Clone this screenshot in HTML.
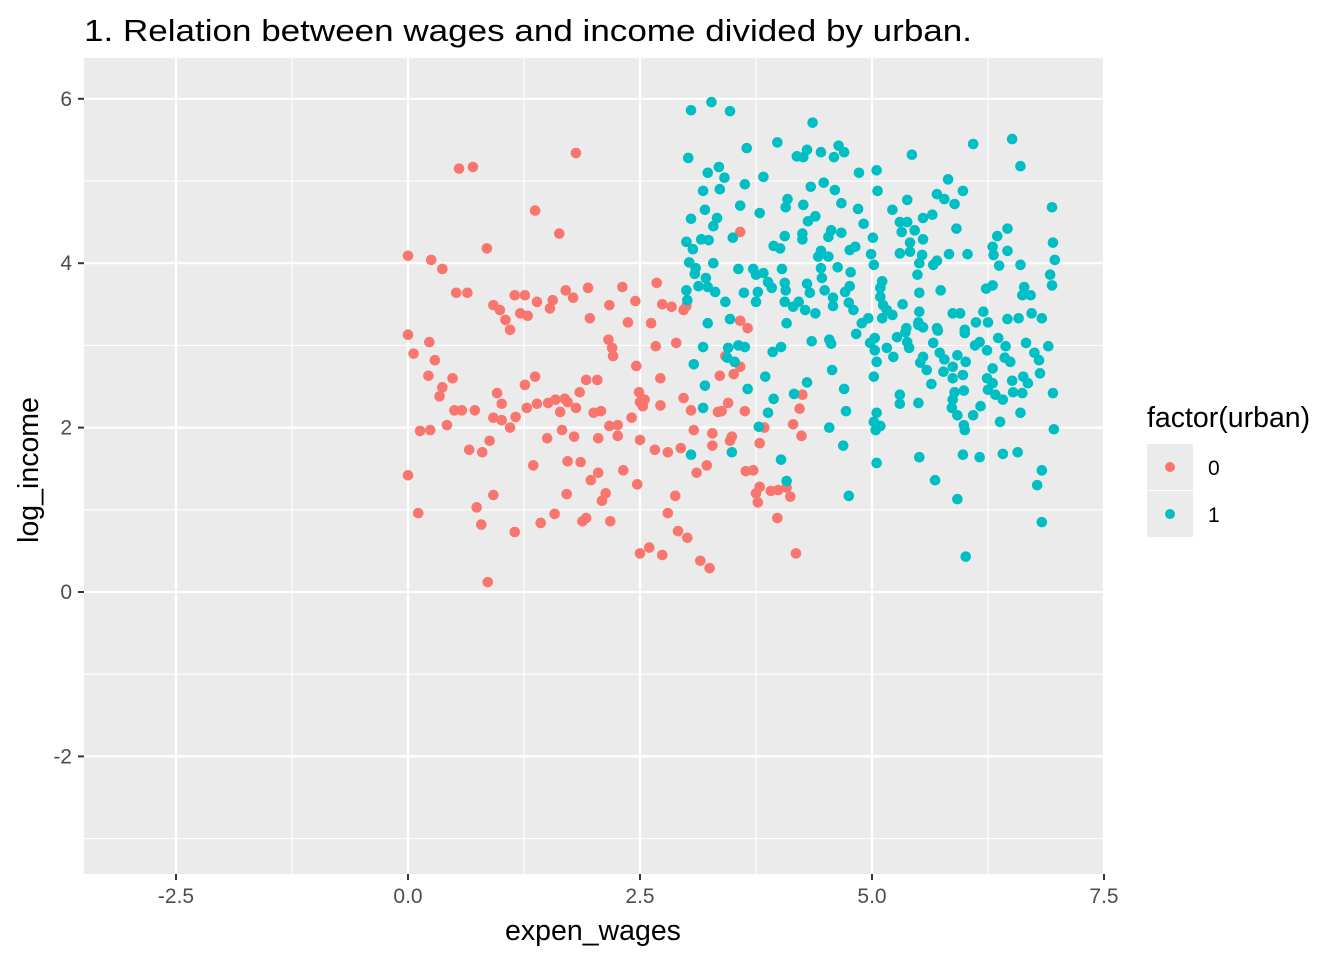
<!DOCTYPE html>
<html><head><meta charset="utf-8"><style>
html,body{margin:0;padding:0;background:#fff;}
svg{display:block;font-family:"Liberation Sans",Arial,sans-serif;}
</style></head><body>
<svg id="chart" width="1344" height="960" xmlns="http://www.w3.org/2000/svg">
<text x="84" y="41" font-size="31" fill="#000" textLength="888" lengthAdjust="spacingAndGlyphs">1. Relation between wages and income divided by urban.</text>
<rect x="84" y="58" width="1020" height="816" fill="#ebebeb"/>
<g id="grid"></g>
<g id="pts"></g>
<g id="axes"></g>
<text x="593" y="940" font-size="28.5" text-anchor="middle" fill="#000">expen_wages</text>
<text x="0" y="0" font-size="28.5" text-anchor="middle" fill="#000" transform="translate(38,470) rotate(-90)">log_income</text>
<g>
<text x="1147" y="427" font-size="28.5" fill="#000">factor(urban)</text>
<rect x="1147" y="444" width="46" height="46" fill="#ebebeb"/>
<rect x="1147" y="491" width="46" height="46" fill="#ebebeb"/>
<circle cx="1170" cy="467" r="5" fill="#F8766D"/>
<circle cx="1170" cy="514" r="5" fill="#00BFC4"/>
<text x="1208" y="475" font-size="21" fill="#000">0</text>
<text x="1208" y="522" font-size="21" fill="#000">1</text>
</g>
</svg>
<script>
const xTicks=[-2.5,0,2.5,5,7.5];
const xTickLabels=["-2.5","0.0","2.5","5.0","7.5"];
const xMinor=[-1.25,1.25,3.75,6.25];
const yTicks=[-2,0,2,4,6];
const yTickLabels=["-2","0","2","4","6"];
const yMinor=[-3,-1,1,3,5];
const redX=[0.55,0.70,1.81,1.37,1.63,0.00,0.85,0.25,0.37,0.52,0.64,0.00,0.06,0.23,0.29,0.48,0.37,0.22,0.92,0.99,1.05,1.10,1.15,1.26,1.21,1.29,1.39,1.53,1.56,1.70,1.78,1.94,1.96,2.17,2.31,2.45,2.68,2.74,2.37,2.62,2.84,2.97,0.92,1.01,1.10,1.26,1.37,1.69,1.81,1.85,1.92,2.04,2.21,2.16,1.66,1.79,2.05,2.00,2.26,2.46,2.49,2.50,2.72,2.72,2.67,2.17,0.24,0.34,0.50,0.58,0.72,0.96,1.01,1.16,1.28,1.39,1.51,1.59,1.72,1.64,2.08,2.26,2.41,2.50,2.66,2.80,2.94,3.08,2.55,0.00,0.11,0.13,0.42,0.66,0.80,0.88,0.79,0.86,0.92,0.74,1.15,1.35,1.43,1.50,1.58,1.71,1.72,1.86,1.88,1.92,1.97,2.05,2.09,2.13,2.18,2.32,2.47,2.50,2.60,2.74,2.80,2.88,2.91,3.01,3.11,3.15,3.25,3.28,3.34,3.38,3.45,3.47,3.49,3.36,3.42,3.51,3.58,3.63,3.64,3.72,3.75,3.77,3.79,3.79,3.84,3.98,3.91,3.99,4.08,4.12,4.18,4.15,4.24,4.22,4.25,3.66,3.58,3.58,3.00,3.05,3.22,3.28,2.89,2.97,2.53,2.20];
const redY=[5.15,5.17,5.34,4.64,4.36,4.09,4.18,4.04,3.93,3.64,3.64,3.13,2.90,3.04,2.82,2.60,2.49,2.63,3.49,3.43,3.31,3.19,3.61,3.61,3.39,3.36,3.53,3.45,3.55,3.67,3.58,3.70,3.33,3.49,3.71,3.54,3.76,3.50,3.28,3.27,3.47,3.43,2.12,2.09,2.00,2.52,2.62,2.35,2.24,2.43,2.58,2.58,2.87,3.07,1.97,1.89,1.87,2.18,1.90,2.75,2.43,2.31,2.60,2.27,2.99,2.02,1.97,2.38,2.21,2.21,2.21,2.42,2.29,2.13,2.24,2.29,2.30,2.34,2.31,2.19,2.20,2.03,2.12,1.85,1.73,1.70,1.75,1.97,2.34,1.42,0.96,1.96,2.03,1.73,1.70,1.84,0.82,0.12,1.18,1.03,0.73,1.54,0.84,1.87,0.95,1.19,1.59,1.58,0.86,0.90,1.36,1.45,1.11,1.20,0.86,1.48,1.31,0.47,0.54,0.45,0.96,1.17,0.74,0.66,1.45,0.38,0.29,1.93,2.19,2.20,2.30,1.84,1.89,2.63,2.87,2.65,2.74,2.20,1.47,1.48,1.20,1.09,1.81,1.28,2.00,0.90,1.23,1.24,1.27,1.16,0.47,2.04,1.90,2.23,2.40,3.21,3.30,4.38,3.48,2.21,1.54,1.78,3.03,2.36,2.26,2.97];
const tealX=[3.05,3.27,3.47,4.36,3.65,3.98,3.02,4.19,4.26,4.30,4.45,4.59,4.64,4.70,5.43,6.09,6.51,6.60,4.86,5.05,3.23,3.35,3.41,3.63,3.83,3.18,3.36,4.34,4.48,4.60,5.06,5.82,5.98,5.70,5.78,5.89,5.38,4.67,4.85,5.22,4.09,4.07,4.26,3.58,3.79,3.20,3.05,3.33,3.29,4.31,4.39,4.91,5.30,5.38,5.32,5.46,5.55,5.65,5.91,6.94,6.46,6.35,3.50,3.00,3.16,3.24,3.07,4.06,4.25,4.25,4.56,4.67,4.53,5.01,5.55,5.41,5.41,5.30,3.94,4.01,4.45,4.53,4.42,4.76,4.82,4.99,5.02,5.54,5.51,5.66,5.70,5.83,6.03,6.30,6.31,6.37,6.46,6.60,6.95,6.97,6.92,6.94,3.03,3.10,3.29,3.09,3.21,3.56,3.72,3.83,3.75,3.88,3.92,4.03,4.06,4.07,4.30,4.33,4.45,4.46,4.63,4.77,4.76,4.71,4.49,4.58,4.58,4.75,4.80,5.11,5.09,5.09,5.12,5.16,5.22,5.11,5.33,5.49,5.51,5.51,5.50,5.74,5.87,5.95,6.20,6.12,6.25,6.23,6.30,6.64,6.62,6.71,6.46,6.58,6.72,6.83,3.00,3.01,3.13,3.23,3.31,3.42,3.62,3.77,3.75,4.06,4.15,4.21,4.28,4.39,3.23,3.47,4.08,4.89,4.96,5.37,5.70,6.00,
3.18,3.08,3.45,3.56,3.63,3.44,3.52,3.20,3.18,3.66,3.85,3.94,3.88,3.78,3.93,4.02,4.35,4.54,4.56,4.57,4.30,4.16,4.70,4.72,4.54,4.69,3.05,3.49,4.02,4.08,4.75,4.83,4.98,5.03,5.03,5.05,5.02,5.16,5.23,5.27,5.36,5.38,5.40,5.50,5.55,5.66,5.71,5.55,5.52,5.59,5.73,5.78,5.77,5.64,5.87,5.87,5.92,6.00,6.01,5.98,5.89,5.99,5.87,5.86,5.92,6.09,6.17,6.11,6.16,6.24,6.36,6.44,6.66,6.90,6.43,6.49,6.30,6.24,6.30,6.25,6.33,6.41,6.51,6.52,6.62,6.63,6.68,6.75,6.80,6.81,6.95,6.60,6.38,6.96,5.05,5.02,5.09,5.04,5.30,5.30,5.50,5.99,6.00,5.05,5.51,5.98,6.16,6.41,6.57,6.83,6.78,5.68,5.92,6.83,6.01];
const tealY=[5.86,5.96,5.85,5.71,5.40,5.47,5.28,5.30,5.29,5.38,5.35,5.29,5.43,5.35,5.32,5.45,5.51,5.18,5.10,5.13,5.10,5.17,5.04,4.96,5.05,4.88,4.90,4.93,4.98,4.89,4.88,5.02,4.88,4.84,4.78,4.72,4.77,4.73,4.66,4.65,4.78,4.68,4.71,4.70,4.61,4.65,4.54,4.55,4.45,4.51,4.57,4.48,4.50,4.50,4.38,4.40,4.55,4.59,4.42,4.68,4.42,4.33,4.31,4.26,4.29,4.28,4.17,4.33,4.36,4.29,4.40,4.37,4.32,4.31,4.29,4.25,4.14,4.12,4.21,4.18,4.15,4.08,4.08,4.16,4.20,4.11,3.98,4.10,4.00,3.98,4.03,4.11,4.11,4.20,4.10,3.97,4.15,3.98,4.25,4.04,3.86,3.73,4.01,3.94,4.00,3.87,3.82,3.93,3.93,3.88,3.86,3.77,3.70,3.93,3.76,3.67,3.75,3.64,3.94,3.82,3.95,3.89,3.72,3.65,3.67,3.58,3.48,3.52,3.43,3.78,3.70,3.59,3.49,3.43,3.37,3.33,3.50,3.86,3.64,3.41,3.28,3.67,3.39,3.39,3.41,3.28,3.28,3.69,3.73,3.71,3.61,3.61,3.32,3.33,3.39,3.33,3.67,3.55,3.72,3.71,3.65,3.53,3.64,3.65,3.53,3.53,3.47,3.53,3.43,3.39,3.27,3.32,3.27,3.27,3.33,3.21,3.21,3.19,
2.98,2.77,2.97,3.00,2.98,2.85,2.80,2.51,2.24,2.47,2.62,2.35,2.18,2.01,2.92,2.98,3.05,3.07,3.02,2.70,2.55,2.41,2.47,2.20,2.00,1.78,1.67,1.70,1.61,1.35,1.17,3.14,3.03,3.09,2.94,2.80,2.62,2.97,2.86,3.10,3.16,3.04,2.97,3.25,3.22,3.03,3.18,2.86,2.79,2.70,2.91,2.83,2.68,2.53,2.74,2.60,2.88,3.15,2.80,2.64,2.43,2.45,2.34,2.24,2.15,2.15,2.26,3.00,3.04,2.94,3.09,2.99,3.03,2.99,2.85,2.80,2.72,2.60,2.54,2.46,2.40,2.34,2.57,2.43,2.42,2.62,2.54,2.91,2.82,2.66,2.42,2.18,2.07,1.98,2.18,2.07,2.02,1.97,2.40,2.29,2.30,2.03,1.97,1.57,1.64,1.67,1.64,1.68,1.70,1.48,1.30,1.36,1.13,0.85,0.43];

const X0=408, XS=92.8, Y0=592, YS=82.2;
function sx(v){return X0+v*XS;}
function sy(v){return Y0-v*YS;}
const NS="http://www.w3.org/2000/svg";
function mk(tag,attrs,parent){const e=document.createElementNS(NS,tag);for(const k in attrs)e.setAttribute(k,attrs[k]);parent.appendChild(e);return e;}
const grid=document.getElementById('grid'), axes=document.getElementById('axes'), pts=document.getElementById('pts');
xMinor.forEach(v=>{const l=mk('line',{x1:sx(v),x2:sx(v),y1:58,y2:874,stroke:'#fff','stroke-width':1.1},grid);

});
yMinor.forEach(v=>{const l=mk('line',{x1:84,x2:1104,y1:sy(v),y2:sy(v),stroke:'#fff','stroke-width':1.1},grid);

});
xTicks.forEach((v,i)=>{const l=mk('line',{x1:sx(v),x2:sx(v),y1:58,y2:874,stroke:'#fff','stroke-width':2.2},grid);


const t=mk('line',{x1:sx(v),x2:sx(v),y1:874,y2:880,stroke:'#333','stroke-width':2},axes);


const tx=mk('text',{x:sx(v),y:903,'font-size':21,'text-anchor':'middle',fill:'#4d4d4d'},axes);tx.textContent=xTickLabels[i];

});
yTicks.forEach((v,i)=>{const l=mk('line',{x1:84,x2:1104,y1:sy(v),y2:sy(v),stroke:'#fff','stroke-width':2.2},grid);


const t=mk('line',{x1:78,x2:84,y1:sy(v),y2:sy(v),stroke:'#333','stroke-width':2},axes);


const tx=mk('text',{x:72,y:sy(v)+7,'font-size':21,'text-anchor':'end',fill:'#4d4d4d'},axes);tx.textContent=yTickLabels[i];

});
redX.forEach((v,i)=>{const c=mk('circle',{cx:sx(v),cy:sy(redY[i]),r:5.3,fill:'#F8766D'},pts);

});
tealX.forEach((v,i)=>{const c=mk('circle',{cx:sx(v),cy:sy(tealY[i]),r:5.3,fill:'#00BFC4'},pts);

});
</script>
</body></html>
